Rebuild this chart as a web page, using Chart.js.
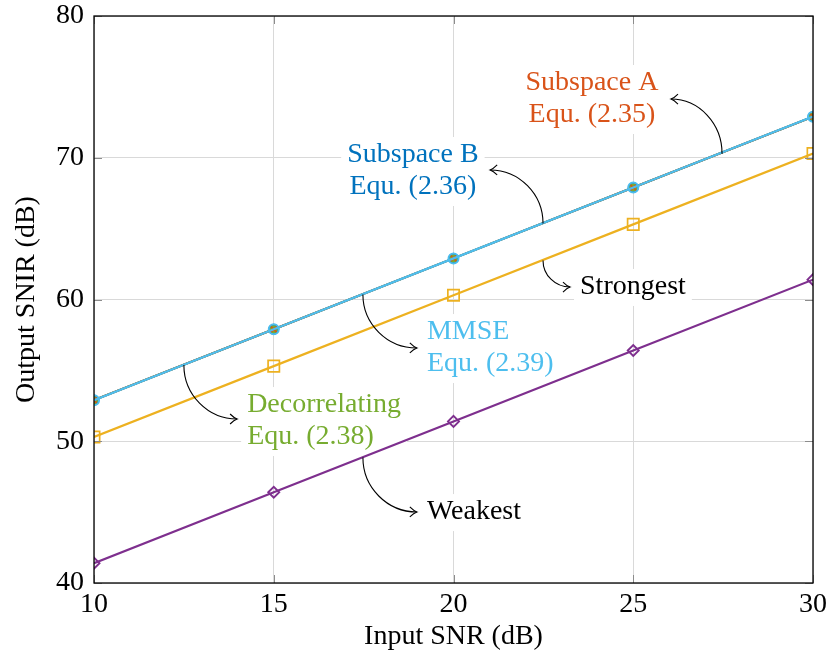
<!DOCTYPE html>
<html><head><meta charset="utf-8">
<script src="https://cdn.jsdelivr.net/npm/chart.js@4.4.0/dist/chart.umd.min.js"></script>
<style>html,body{margin:0;padding:0;background:#fff}</style>
</head><body>
<canvas id="c" width="828" height="656"></canvas>
<script>
// ---- data ----
const snr = [10, 15, 20, 25, 30];
const subspaceA = [52.9, 57.9, 62.9, 67.9, 72.9];
const subspaceB = [52.9, 57.9, 62.9, 67.9, 72.9];
const decorrelating = [52.9, 57.9, 62.9, 67.9, 72.9];
const mmse = [52.9, 57.9, 62.9, 67.9, 72.9];
const strongest = [50.3, 55.3, 60.3, 65.3, 70.3];
const weakest = [41.4, 46.4, 51.4, 56.4, 61.4];
const xTicks = [10, 15, 20, 25, 30];
const yTicks = [40, 50, 60, 70, 80];
const xTitle = 'Input SNR (dB)';
const yTitle = 'Output SNIR (dB)';

// annotation labels (data coordinates): text anchor, arrow start, arrow end
const noteLines = [['Subspace A', 'Equ. (2.35)'], ['Subspace B', 'Equ. (2.36)'], ['Strongest'], ['MMSE', 'Equ. (2.39)'], ['Decorrelating', 'Equ. (2.38)'], ['Weakest']];
const noteColors = ['#D95319', '#0072BD', '#000000', '#4DBEEE', '#77AC30', '#000000'];
const noteAlign = ['center', 'center', 'left', 'left', 'left', 'left'];
const noteAnchor = [[23.85, 74.78], [18.87, 69.70], [23.52, 60.39], [19.26, 57.21], [14.26, 52.06], [19.26, 44.51]];
const arrowFrom = [[27.47, 70.29], [22.49, 65.36], [22.49, 62.76], [17.48, 60.35], [12.50, 55.38], [17.48, 48.85]];
const arrowTo = [[26.05, 74.14], [21.02, 69.14], [23.24, 60.88], [18.98, 56.58], [13.98, 51.57], [18.98, 45.01]];

const FONT_FAMILY = '"Liberation Serif", "DejaVu Serif", serif';
const FONT_SIZE = 28;
const LINE_GAP = 32;

function pts(ys) { return snr.map((x, i) => ({x: x, y: ys[i]})); }

const notesPlugin = {
  id: 'notes',
  beforeDatasetsDraw(chart) {
    const ctx = chart.ctx, xs = chart.scales.x, ys = chart.scales.y;
    ctx.save();
    ctx.font = FONT_SIZE + 'px ' + FONT_FAMILY;
    ctx.fillStyle = '#ffffff';
    noteLines.forEach((lines, i) => {
      const ax = xs.getPixelForValue(noteAnchor[i][0]);
      const ay = ys.getPixelForValue(noteAnchor[i][1]);
      const w = Math.max(...lines.map(t => ctx.measureText(t).width));
      const left = noteAlign[i] === 'center' ? ax - w / 2 : ax;
      const top = ay - 21;
      const bottom = ay + (lines.length - 1) * LINE_GAP + 8;
      ctx.fillRect(left - 6, top - 4, w + 12, bottom - top + 8);
    });
    ctx.restore();
  },
  afterDatasetsDraw(chart) {
    const ctx = chart.ctx, xs = chart.scales.x, ys = chart.scales.y;
    const a = chart.chartArea;
    ctx.save();
    // inner tick marks
    ctx.strokeStyle = '#8c8c8c';
    ctx.lineWidth = 1;
    const tl = 8;
    xTicks.forEach(v => {
      const px = Math.round(xs.getPixelForValue(v)) + 0.5;
      ctx.beginPath();
      ctx.moveTo(px, a.bottom); ctx.lineTo(px, a.bottom - tl);
      ctx.moveTo(px, a.top); ctx.lineTo(px, a.top + tl);
      ctx.stroke();
    });
    yTicks.forEach(v => {
      const py = Math.round(ys.getPixelForValue(v)) + 0.5;
      ctx.beginPath();
      ctx.moveTo(a.left, py); ctx.lineTo(a.left + tl, py);
      ctx.moveTo(a.right, py); ctx.lineTo(a.right - tl, py);
      ctx.stroke();
    });
    // frame
    ctx.strokeStyle = '#000';
    ctx.lineWidth = 1.3;
    ctx.strokeRect(a.left, a.top, a.right - a.left, a.bottom - a.top);
    // arrows
    ctx.lineWidth = 1.1;
    ctx.strokeStyle = '#000';
    noteLines.forEach((lines, i) => {
      const sx = xs.getPixelForValue(arrowFrom[i][0]), sy = ys.getPixelForValue(arrowFrom[i][1]);
      const ex = xs.getPixelForValue(arrowTo[i][0]), ey = ys.getPixelForValue(arrowTo[i][1]);
      const k = 0.55;
      ctx.beginPath();
      ctx.moveTo(sx, sy);
      ctx.bezierCurveTo(sx, sy + k * (ey - sy), ex + k * (sx - ex), ey, ex, ey);
      ctx.stroke();
      const dir = ex < sx ? -1 : 1;
      ctx.beginPath();
      ctx.moveTo(ex - dir * 7, ey - 5);
      ctx.quadraticCurveTo(ex - dir * 3, ey - 1, ex, ey);
      ctx.quadraticCurveTo(ex - dir * 3, ey + 1, ex - dir * 7, ey + 5);
      ctx.stroke();
    });
    // texts
    ctx.font = FONT_SIZE + 'px ' + FONT_FAMILY;
    ctx.textBaseline = 'alphabetic';
    noteLines.forEach((lines, i) => {
      const ax = xs.getPixelForValue(noteAnchor[i][0]);
      const ay = ys.getPixelForValue(noteAnchor[i][1]);
      ctx.fillStyle = noteColors[i];
      ctx.textAlign = noteAlign[i];
      lines.forEach((t, j) => ctx.fillText(t, ax, ay + j * LINE_GAP));
    });
    ctx.restore();
  }
};

const tickFont = {family: FONT_FAMILY, size: FONT_SIZE};

new Chart(document.getElementById('c'), {
  type: 'line',
  data: {
    datasets: [
      {label: 'MMSE', data: pts(mmse), borderColor: '#4DBEEE', borderWidth: 2.2,
       pointStyle: 'circle', pointRadius: 5, pointBorderWidth: 2, pointBorderColor: '#4DBEEE',
       pointBackgroundColor: 'rgba(0,0,0,0)', order: 0},
      {label: 'Subspace A', data: pts(subspaceA), borderColor: '#D95319', borderWidth: 2,
       pointStyle: 'crossRot', pointRadius: 4, pointBorderWidth: 1.5, pointBorderColor: '#D95319', order: 1},
      {label: 'Decorrelating', data: pts(decorrelating), borderColor: '#77AC30', borderWidth: 2,
       pointStyle: 'circle', pointRadius: 4, pointBorderWidth: 0, pointBackgroundColor: '#77AC30', order: 2},
      {label: 'Subspace B', data: pts(subspaceB), borderColor: '#0072BD', borderWidth: 2,
       pointStyle: 'circle', pointRadius: 5, pointBorderWidth: 1, pointBorderColor: '#0072BD',
       pointBackgroundColor: '#0072BD', order: 3},
      {label: 'Strongest', data: pts(strongest), borderColor: '#EDB120', borderWidth: 2.2,
       pointStyle: 'rect', pointRadius: 8, pointBorderWidth: 1.7, pointBorderColor: '#EDB120',
       pointBackgroundColor: 'rgba(0,0,0,0)', order: 4},
      {label: 'Weakest', data: pts(weakest), borderColor: '#7E2F8E', borderWidth: 2.2,
       pointStyle: 'rectRot', pointRadius: 5.5, pointBorderWidth: 1.9, pointBorderColor: '#7E2F8E',
       pointBackgroundColor: 'rgba(0,0,0,0)', order: 5}
    ]
  },
  options: {
    responsive: false,
    animation: false,
    devicePixelRatio: 1,
    layout: {padding: {top: 16, right: 15, left: 0, bottom: 0}},
    plugins: {legend: {display: false}, tooltip: {enabled: false}},
    elements: {line: {tension: 0}},
    scales: {
      x: {
        type: 'linear', min: 10, max: 30,
        afterBuildTicks: s => { s.ticks = xTicks.map(v => ({value: v})); },
        afterFit: s => { s.height = 73; s.paddingLeft = 0; s.paddingRight = 0; },
        ticks: {font: tickFont, color: '#000', padding: 5, maxRotation: 0, autoSkip: false},
        grid: {color: '#d9d9d9', lineWidth: 1, drawTicks: false},
        border: {display: false},
        title: {display: true, text: xTitle, font: tickFont, color: '#000', padding: {top: 0, bottom: 3}}
      },
      y: {
        type: 'linear', min: 40, max: 80,
        afterBuildTicks: s => { s.ticks = yTicks.map(v => ({value: v})); },
        afterFit: s => { s.width = 94; s.paddingTop = 0; s.paddingBottom = 0; },
        ticks: {font: tickFont, color: '#000', padding: 10, autoSkip: false},
        grid: {color: '#d9d9d9', lineWidth: 1, drawTicks: false},
        border: {display: false},
        title: {display: true, text: yTitle, font: tickFont, color: '#000', padding: {top: 10, bottom: 0}}
      }
    }
  },
  plugins: [notesPlugin]
});
</script>
</body></html>
